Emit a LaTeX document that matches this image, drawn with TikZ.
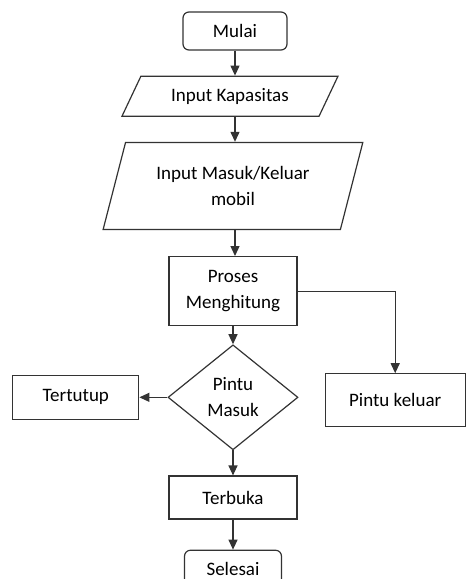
\documentclass[tikz,border=0pt]{standalone}
\usepackage{fontspec}
\setmainfont{Carlito}
\usepackage{tikz}
\usetikzlibrary{positioning}
\usetikzlibrary{shapes.geometric}
\usetikzlibrary{arrows.meta}
\tikzstyle{block} = [draw, rectangle, minimum height=43pt, minimum width=128pt, align=center]
\tikzstyle{terminal} = [draw, rectangle, rounded corners=6pt, minimum height=38pt, minimum width=104pt]
\tikzstyle{io} = [draw, trapezium, trapezium stretches=true, inner sep=1pt, align=center]
\tikzstyle{decision} = [draw, diamond, inner sep=0pt, minimum width=130pt, minimum height=105pt, align=center]

\begin{document}
\begin{tikzpicture}[x=1pt,y=1pt,>={Triangle[length=10pt,width=9pt]},line width=1.2pt,draw=black!80,
    font=\fontsize{19}{26}\selectfont]
    \useasboundingbox (0,0) rectangle (467,-579);
    \node [terminal] (mulai) at (235,-31) {Mulai};
    \node [io, below = 25pt of mulai, xshift=-5pt, minimum width=216pt, minimum height=40pt,
        trapezium left angle=55, trapezium right angle=125] (kapasitas) {Input Kapasitas};
    \node [io, below = 25pt of kapasitas, xshift=3pt, minimum width=260pt, minimum height=87pt,
        trapezium left angle=68.6, trapezium right angle=111.4] (masuk) {Input Masuk/Keluar\\mobil};
    \node [block, below = 26pt of masuk, minimum height=69pt] (proses) {Proses\\Menghitung};
    \node [decision, below = 18pt of proses] (pintumasuk) {Pintu\\Masuk};
    \node [block, left = 28pt of pintumasuk, minimum width=126pt, minimum height=44pt] (tertutup) {Tertutup};
    \node [block, right = 26pt of pintumasuk, yshift=-3pt, minimum width=140pt, minimum height=53pt] (keluar) {Pintu keluar};
    \node [block, below = 25pt of pintumasuk] (terbuka) {Terbuka};
    \node [terminal, below = 30pt of terbuka, minimum width=97pt] (selesai) {Selesai};

    \draw [->] (mulai) -- (mulai |- kapasitas.north); % connections
    \draw [->] (mulai |- kapasitas.south) -- (mulai |- masuk.north);
    \draw [->] (mulai |- masuk.south) -- (mulai |- proses.north);
    \draw [->] (proses) -- (pintumasuk);
    \draw [->] (proses.east) -| (keluar.north);
    \draw [->] (pintumasuk) -- (tertutup);
    \draw [->] (pintumasuk) -- (terbuka);
    \draw [->] (terbuka) -- (selesai);
\end{tikzpicture}
\end{document}
